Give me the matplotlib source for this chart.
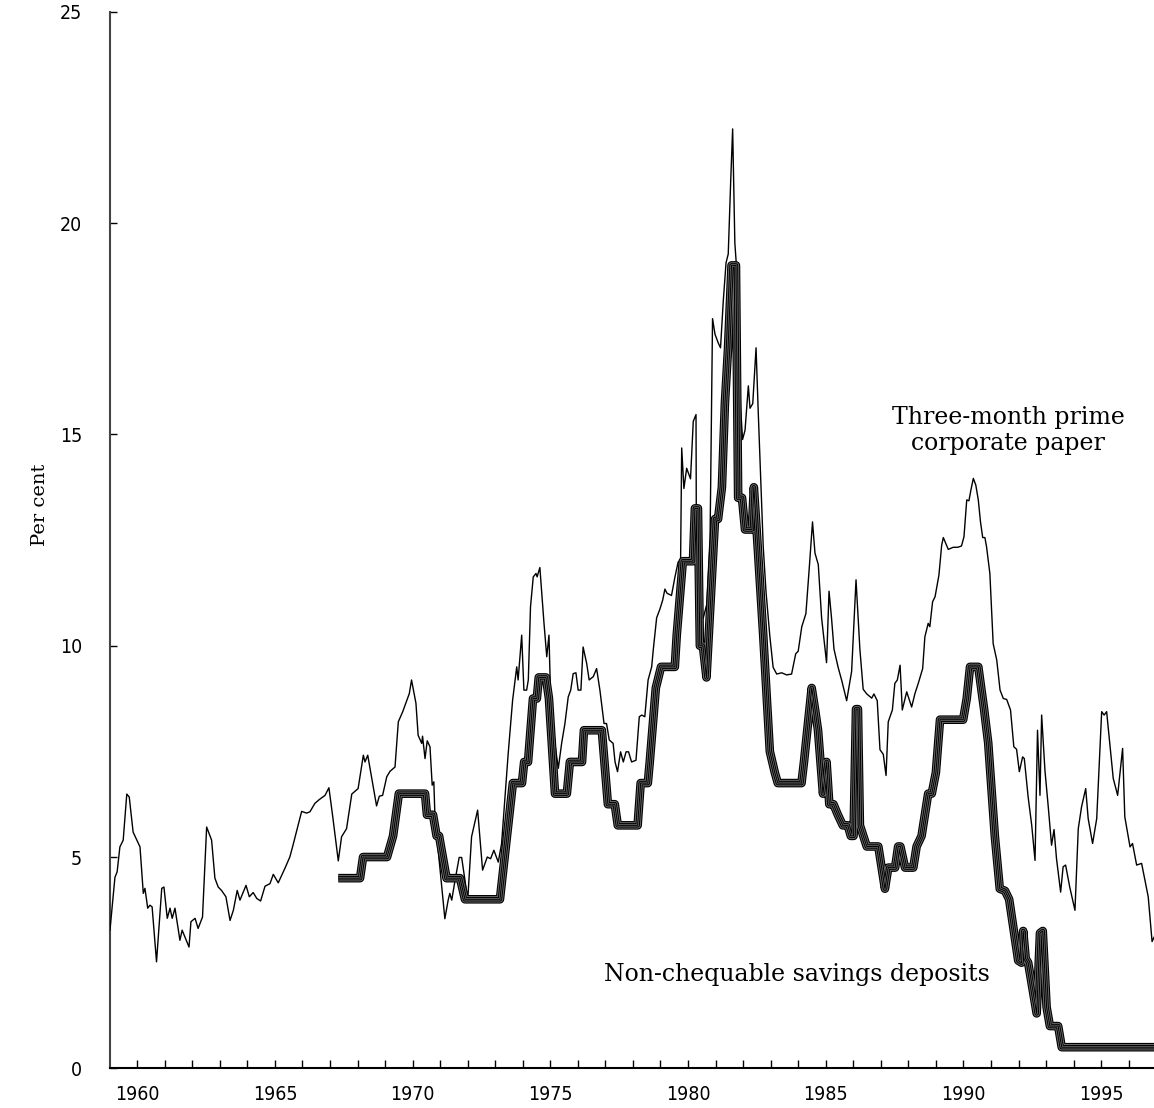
import matplotlib
matplotlib.use("Agg")
import matplotlib.pyplot as plt
from matplotlib.ticker import MultipleLocator

# =========================
# data
# =========================
# three-month prime corporate paper (thin line)
paper_year = [
    1959.01, 1959.19, 1959.27, 1959.37, 1959.49, 1959.62, 1959.71, 1959.85, 1960.10, 1960.22,
    1960.28, 1960.38, 1960.46, 1960.54, 1960.70, 1960.89, 1960.97, 1961.09, 1961.19, 1961.27,
    1961.37, 1961.55, 1961.63, 1961.88, 1961.95, 1962.10, 1962.21, 1962.37, 1962.52, 1962.70,
    1962.82, 1962.94, 1963.06, 1963.22, 1963.37, 1963.49, 1963.63, 1963.73, 1963.95, 1964.07,
    1964.21, 1964.34, 1964.48, 1964.64, 1964.82, 1964.94, 1965.12, 1965.36, 1965.54, 1965.64,
    1965.97, 1966.15, 1966.27, 1966.45, 1966.61, 1966.82, 1966.96, 1967.10, 1967.30, 1967.42,
    1967.60, 1967.79, 1968.02, 1968.21, 1968.27, 1968.37, 1968.69, 1968.79, 1968.91, 1969.06,
    1969.18, 1969.36, 1969.48, 1969.64, 1969.88, 1969.96, 1970.12, 1970.20, 1970.33, 1970.36,
    1970.45, 1970.53, 1970.63, 1970.71, 1970.77, 1970.81, 1971.17, 1971.29, 1971.35, 1971.42,
    1971.54, 1971.69, 1971.78, 1971.90, 1972.00, 1972.14, 1972.36, 1972.44, 1972.54, 1972.71,
    1972.83, 1972.95, 1973.11, 1973.23, 1973.47, 1973.63, 1973.78, 1973.83, 1973.96, 1974.04,
    1974.14, 1974.20, 1974.28, 1974.38, 1974.48, 1974.52, 1974.62, 1974.77, 1974.87, 1974.95,
    1975.01, 1975.17, 1975.29, 1975.41, 1975.53, 1975.65, 1975.74, 1975.83, 1975.93, 1976.01,
    1976.11, 1976.19, 1976.32, 1976.41, 1976.56, 1976.68, 1976.80, 1976.95, 1977.04, 1977.14,
    1977.28, 1977.35, 1977.44, 1977.55, 1977.65, 1977.75, 1977.84, 1977.95, 1978.11, 1978.23,
    1978.32, 1978.43, 1978.55, 1978.68, 1978.74, 1978.86, 1978.98, 1979.08, 1979.16, 1979.24,
    1979.40, 1979.52, 1979.64, 1979.73, 1979.77, 1979.85, 1979.95, 1980.09, 1980.19, 1980.29,
    1980.31, 1980.43, 1980.55, 1980.68, 1980.80, 1980.89, 1980.98, 1981.10, 1981.18, 1981.28,
    1981.38, 1981.46, 1981.55, 1981.62, 1981.70, 1981.79, 1981.86, 1981.91, 1981.98, 1982.07,
    1982.19, 1982.25, 1982.35, 1982.47, 1982.55, 1982.65, 1982.73, 1982.83, 1982.97, 1983.09,
    1983.22, 1983.40, 1983.58, 1983.76, 1983.91, 1984.00, 1984.13, 1984.28, 1984.40, 1984.52,
    1984.61, 1984.73, 1984.85, 1985.03, 1985.12, 1985.21, 1985.30, 1985.45, 1985.58, 1985.76,
    1985.94, 1986.10, 1986.24, 1986.36, 1986.49, 1986.67, 1986.75, 1986.87, 1986.97, 1987.09,
    1987.19, 1987.27, 1987.42, 1987.51, 1987.60, 1987.70, 1987.78, 1987.94, 1988.12, 1988.24,
    1988.36, 1988.52, 1988.60, 1988.72, 1988.78, 1988.88, 1988.97, 1989.11, 1989.21, 1989.27,
    1989.36, 1989.45, 1989.63, 1989.79, 1989.93, 1990.02, 1990.12, 1990.20, 1990.27, 1990.36,
    1990.45, 1990.54, 1990.62, 1990.70, 1990.78, 1990.84, 1990.96, 1991.08, 1991.21, 1991.33,
    1991.45, 1991.57, 1991.71, 1991.83, 1991.93, 1992.03, 1992.15, 1992.21, 1992.35, 1992.48,
    1992.60, 1992.69, 1992.78, 1992.84, 1992.96, 1993.08, 1993.20, 1993.29, 1993.38, 1993.53,
    1993.62, 1993.71, 1993.86, 1994.05, 1994.17, 1994.29, 1994.44, 1994.53, 1994.69, 1994.84,
    1995.02, 1995.11, 1995.20, 1995.44, 1995.60, 1995.78, 1995.86, 1996.05, 1996.14, 1996.29,
    1996.47, 1996.59, 1996.71, 1996.85, 1996.92,
]
paper_rate = [
    3.27, 4.52, 4.65, 5.24, 5.40, 6.49, 6.42, 5.59, 5.24, 4.14,
    4.26, 3.79, 3.86, 3.82, 2.52, 4.26, 4.29, 3.55, 3.79, 3.55,
    3.79, 3.03, 3.27, 2.87, 3.47, 3.55, 3.31, 3.58, 5.71, 5.40,
    4.50, 4.29, 4.21, 4.06, 3.50, 3.74, 4.21, 3.98, 4.33, 4.06,
    4.16, 4.02, 3.96, 4.31, 4.37, 4.59, 4.39, 4.73, 5.00, 5.24,
    6.08, 6.04, 6.07, 6.27, 6.36, 6.46, 6.64, 5.95, 4.91, 5.48,
    5.67, 6.49, 6.62, 7.41, 7.25, 7.41, 6.21, 6.44, 6.46, 6.90,
    7.03, 7.13, 8.20, 8.44, 8.87, 9.19, 8.64, 7.88, 7.69, 7.86,
    7.33, 7.75, 7.61, 6.70, 6.78, 5.95, 3.54, 3.98, 4.14, 3.98,
    4.45, 4.99, 4.99, 4.45, 3.98, 5.48, 6.11, 5.48, 4.69, 5.00,
    4.96, 5.16, 4.88, 5.32, 7.45, 8.71, 9.50, 9.19, 10.25, 8.95,
    8.95, 9.19, 10.92, 11.63, 11.71, 11.63, 11.85, 10.53, 9.74, 10.25,
    8.79, 7.65, 7.10, 7.69, 8.16, 8.79, 8.95, 9.34, 9.36, 8.95,
    8.95, 9.97, 9.58, 9.19, 9.27, 9.46, 8.95, 8.16, 8.16, 7.77,
    7.69, 7.25, 7.02, 7.49, 7.25, 7.49, 7.49, 7.25, 7.29, 8.32,
    8.36, 8.32, 9.19, 9.50, 9.92, 10.66, 10.87, 11.08, 11.34, 11.24,
    11.19, 11.61, 11.98, 12.03, 14.68, 13.72, 14.20, 13.95, 15.31, 15.47,
    10.65, 10.56, 10.65, 10.98, 12.56, 17.74, 17.37, 17.16, 17.05, 18.16,
    19.06, 19.27, 21.01, 22.23, 19.53, 18.69, 16.57, 15.62, 14.88, 15.10,
    16.15, 15.62, 15.73, 17.05, 15.52, 13.72, 12.35, 11.29, 10.23, 9.49,
    9.33, 9.36, 9.31, 9.33, 9.81, 9.87, 10.45, 10.76, 11.82, 12.93,
    12.19, 11.92, 10.66, 9.60, 11.29, 10.66, 9.92, 9.49, 9.18, 8.70,
    9.39, 11.56, 9.92, 8.97, 8.86, 8.76, 8.86, 8.70, 7.54, 7.43,
    6.93, 8.20, 8.48, 9.11, 9.19, 9.54, 8.48, 8.91, 8.55, 8.87,
    9.11, 9.46, 10.21, 10.53, 10.45, 11.04, 11.16, 11.67, 12.38, 12.56,
    12.42, 12.28, 12.33, 12.33, 12.36, 12.58, 13.45, 13.43, 13.68, 13.96,
    13.80, 13.45, 12.93, 12.56, 12.56, 12.34, 11.71, 10.05, 9.66, 8.95,
    8.75, 8.73, 8.48, 7.61, 7.55, 7.02, 7.37, 7.33, 6.42, 5.75,
    4.92, 8.00, 6.46, 8.36, 7.05, 6.19, 5.28, 5.65, 4.96, 4.17,
    4.77, 4.81, 4.29, 3.74, 5.67, 6.19, 6.62, 5.91, 5.32, 5.91,
    8.44, 8.36, 8.44, 6.86, 6.46, 7.57, 5.95, 5.24, 5.32, 4.81,
    4.85, 4.45, 4.06, 3.00, 3.10,
]

# non-chequable savings deposits (thick line)
savings_year = [
    1967.30, 1968.09, 1968.20, 1969.07, 1969.18, 1969.29, 1969.50, 1970.45, 1970.52, 1970.74,
    1970.87, 1970.96, 1971.23, 1971.72, 1971.90, 1973.17, 1973.64, 1973.97, 1974.05, 1974.19,
    1974.37, 1974.51, 1974.58, 1974.84, 1974.95, 1975.17, 1975.60, 1975.71, 1976.15, 1976.22,
    1976.87, 1977.09, 1977.34, 1977.45, 1978.17, 1978.28, 1978.54, 1978.61, 1978.83, 1979.02,
    1979.52, 1979.59, 1979.81, 1980.18, 1980.25, 1980.36, 1980.43, 1980.54, 1980.67, 1980.98,
    1981.09, 1981.23, 1981.34, 1981.45, 1981.58, 1981.74, 1981.82, 1981.96, 1982.07, 1982.32,
    1982.39, 1982.49, 1982.73, 1982.97, 1983.15, 1983.26, 1984.12, 1984.21, 1984.49, 1984.61,
    1984.72, 1984.90, 1985.03, 1985.13, 1985.28, 1985.44, 1985.62, 1985.80, 1985.91, 1986.01,
    1986.10, 1986.17, 1986.24, 1986.49, 1986.91, 1987.03, 1987.15, 1987.27, 1987.52, 1987.63,
    1987.71, 1987.88, 1988.18, 1988.30, 1988.48, 1988.72, 1988.85, 1989.00, 1989.15, 1989.99,
    1990.12, 1990.24, 1990.54, 1990.75, 1990.90, 1991.14, 1991.32, 1991.51, 1991.66, 1991.99,
    1992.11, 1992.17, 1992.26, 1992.35, 1992.66, 1992.78, 1992.88, 1993.02, 1993.14, 1993.44,
    1993.57, 1996.92,
]
savings_rate = [
    4.50, 4.50, 5.00, 5.00, 5.25, 5.50, 6.50, 6.50, 6.00, 6.00,
    5.50, 5.50, 4.50, 4.50, 4.00, 4.00, 6.75, 6.75, 7.25, 7.25,
    8.75, 8.75, 9.25, 9.25, 8.75, 6.50, 6.50, 7.25, 7.25, 8.00,
    8.00, 6.25, 6.25, 5.75, 5.75, 6.75, 6.75, 7.25, 9.00, 9.50,
    9.50, 10.25, 12.00, 12.00, 13.25, 13.25, 10.00, 10.00, 9.25, 13.00,
    13.00, 13.75, 15.75, 17.00, 19.00, 19.00, 13.50, 13.50, 12.75, 12.75,
    13.75, 12.75, 10.25, 7.50, 7.00, 6.75, 6.75, 7.25, 9.00, 8.50,
    8.00, 6.50, 7.25, 6.25, 6.25, 6.00, 5.75, 5.75, 5.50, 5.50,
    8.50, 8.50, 5.75, 5.25, 5.25, 4.75, 4.25, 4.75, 4.75, 5.25,
    5.25, 4.75, 4.75, 5.25, 5.50, 6.50, 6.50, 7.00, 8.25, 8.25,
    8.75, 9.50, 9.50, 8.50, 7.70, 5.50, 4.25, 4.20, 4.00, 2.55,
    2.50, 3.25, 2.60, 2.50, 1.30, 3.20, 3.25, 1.45, 1.00, 1.00,
    0.50, 0.50,
]

y_ticks = [0, 5, 10, 15, 20, 25]
x_labels = [1960, 1965, 1970, 1975, 1980, 1985, 1990, 1995]

# =========================
# figure
# =========================
tick_font = ["Liberation Sans Narrow", "DejaVu Sans"]
serif_font = ["DejaVu Serif"]

fig = plt.figure(figsize=(11.54, 11.08), dpi=100)
ax = fig.add_axes([0.0953, 0.0358, 0.9047, 0.9535])

ax.plot(paper_year, paper_rate, color="black", linewidth=1.0, zorder=3)

# thick striped line: stacked strokes
for lw, col in [(6.2, "black"), (4.6, "#6a6a6a"), (3.2, "black"), (1.8, "#6a6a6a"), (0.7, "black")]:
    ax.plot(savings_year, savings_rate, color=col, linewidth=lw,
            solid_joinstyle="round", solid_capstyle="butt", zorder=4)

ax.set_xlim(1959.01, 1996.92)
ax.set_ylim(0, 25)

ax.set_yticks(y_ticks)
ax.set_xticks(x_labels)
ax.xaxis.set_minor_locator(MultipleLocator(1))
ax.tick_params(axis="y", direction="in", length=5, width=1, pad=20)
ax.tick_params(axis="x", which="both", direction="in", length=6, width=1, pad=12)
for lab in ax.get_xticklabels() + ax.get_yticklabels():
    lab.set_family(tick_font)
    lab.set_stretch("condensed")
    lab.set_fontsize(14)

ax.spines["top"].set_visible(False)
ax.spines["right"].set_visible(False)
ax.spines["left"].set_color("#444444")
ax.spines["left"].set_linewidth(1.5)
ax.spines["bottom"].set_linewidth(1.5)

fig.text(40 / 1154, 1 - 505 / 1108, "Per cent", rotation=90, family=serif_font,
         fontsize=14, ha="center", va="center")

ax.text(1991.62, 15.1, "Three-month prime\ncorporate paper", family=serif_font,
        fontsize=17, ha="center", va="center", linespacing=1.15)
ax.text(1976.94, 2.21, "Non-chequable savings deposits", family=serif_font,
        fontsize=17, ha="left", va="center")

plt.savefig("out.png", dpi=100)
